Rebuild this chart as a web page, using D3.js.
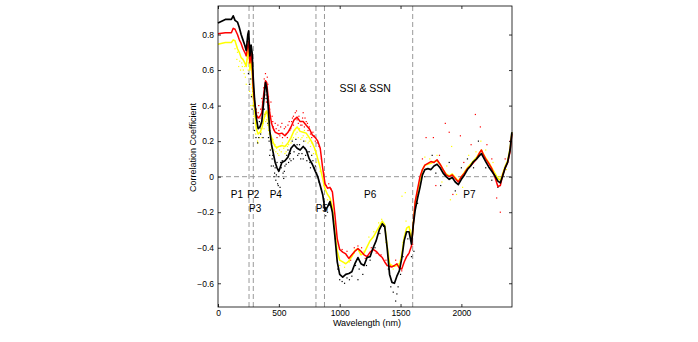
<!DOCTYPE html>
<html>
<head>
<meta charset="utf-8">
<script src="https://cdn.jsdelivr.net/npm/d3@7"></script>
<style>
  body { margin: 0; background: #fff; }
  text { font-family: "Liberation Sans", Arial, Helvetica, sans-serif; fill: #000; }
  .tick text { font-size: 8.5px; }
  .axisText { font-size: 9px; }
  .note { font-size: 10.5px; }
</style>
</head>
<body>
<div class="chart"></div>
<script>
// wavelength grid (nm) and the three smoothed correlation curves
var wavelengths = [0, 60, 110, 125, 140, 160, 175, 190, 205, 220, 232, 245, 252, 262, 272, 280, 290, 300, 315, 330,
  345, 360, 375, 390, 400, 412, 425, 440, 455, 470, 485, 500, 525, 550, 575, 600, 625, 650, 675, 700,
  725, 750, 775, 800, 820, 840, 860, 880, 900, 920, 940, 960, 980, 1000, 1025, 1050, 1075, 1100, 1125, 1150,
  1175, 1200, 1225, 1250, 1275, 1300, 1325, 1350, 1370, 1390, 1410, 1430, 1450, 1470, 1490, 1510, 1530, 1550, 1570, 1590,
  1605, 1620, 1640, 1660, 1680, 1700, 1725, 1750, 1775, 1800, 1825, 1850, 1875, 1900, 1925, 1950, 1975, 2000, 2025, 2050,
  2075, 2100, 2125, 2150, 2165, 2180, 2200, 2225, 2250, 2275, 2300, 2320, 2340, 2360, 2380, 2400, 2415];

var blackCorr = [0.865, 0.885, 0.885, 0.905, 0.88, 0.87, 0.84, 0.80, 0.77, 0.74, 0.71, 0.80, 0.82, 0.68, 0.74, 0.70, 0.55, 0.44, 0.33, 0.27,
  0.28, 0.31, 0.42, 0.53, 0.50, 0.40, 0.26, 0.18, 0.13, 0.08, 0.05, 0.03, 0.08, 0.09, 0.11, 0.16, 0.18, 0.16, 0.15, 0.17,
  0.15, 0.10, 0.07, 0.03, 0.00, -0.05, -0.10, -0.19, -0.17, -0.14, -0.20, -0.33, -0.48, -0.55, -0.565, -0.55, -0.545, -0.535, -0.49, -0.455,
  -0.49, -0.50, -0.455, -0.45, -0.40, -0.36, -0.30, -0.265, -0.28, -0.40, -0.55, -0.595, -0.60, -0.56, -0.53, -0.46, -0.36, -0.31, -0.31, -0.38,
  -0.27, -0.19, -0.12, -0.06, 0.01, 0.04, 0.045, 0.04, 0.06, 0.07, 0.05, 0.02, 0.0, -0.015, -0.005, -0.03, -0.045, -0.015, 0.01, 0.04,
  0.06, 0.085, 0.10, 0.12, 0.13, 0.11, 0.085, 0.055, 0.03, 0.005, -0.025, -0.035, 0.005, 0.05, 0.08, 0.15, 0.25];

var redCorr = [0.805, 0.81, 0.81, 0.835, 0.83, 0.80, 0.77, 0.75, 0.72, 0.70, 0.68, 0.74, 0.76, 0.64, 0.70, 0.64, 0.50, 0.42, 0.35, 0.33,
  0.34, 0.36, 0.46, 0.54, 0.53, 0.45, 0.36, 0.30, 0.27, 0.25, 0.245, 0.24, 0.245, 0.23, 0.25, 0.28, 0.32, 0.335, 0.31, 0.31,
  0.29, 0.27, 0.235, 0.22, 0.20, 0.16, 0.05, -0.04, -0.065, -0.06, -0.085, -0.21, -0.35, -0.41, -0.425, -0.435, -0.46, -0.44, -0.42, -0.405,
  -0.42, -0.44, -0.45, -0.425, -0.41, -0.42, -0.44, -0.455, -0.48, -0.50, -0.505, -0.508, -0.50, -0.49, -0.515, -0.52, -0.48, -0.45, -0.43, -0.39,
  -0.27, -0.14, -0.07, 0.0, 0.04, 0.065, 0.075, 0.085, 0.08, 0.095, 0.07, 0.04, 0.01, 0.0, 0.01, -0.01, -0.03, 0.0, 0.02, 0.045,
  0.06, 0.08, 0.10, 0.135, 0.15, 0.125, 0.10, 0.075, 0.045, 0.0, -0.055, -0.05, 0.01, 0.05, 0.08, 0.14, 0.24];

var yellowCorr = [0.745, 0.755, 0.755, 0.77, 0.765, 0.72, 0.70, 0.67, 0.66, 0.64, 0.62, 0.70, 0.72, 0.60, 0.66, 0.58, 0.44, 0.38, 0.27, 0.24,
  0.25, 0.27, 0.32, 0.36, 0.37, 0.33, 0.25, 0.22, 0.19, 0.17, 0.165, 0.17, 0.175, 0.17, 0.19, 0.22, 0.26, 0.28, 0.255, 0.25,
  0.245, 0.22, 0.19, 0.15, 0.10, 0.05, -0.01, -0.07, -0.10, -0.12, -0.17, -0.31, -0.42, -0.47, -0.48, -0.49, -0.475, -0.45, -0.415, -0.405,
  -0.44, -0.43, -0.395, -0.36, -0.34, -0.31, -0.28, -0.25, -0.27, -0.39, -0.49, -0.50, -0.505, -0.50, -0.50, -0.44, -0.34, -0.29, -0.28, -0.36,
  -0.26, -0.15, -0.08, -0.02, 0.04, 0.065, 0.07, 0.075, 0.085, 0.09, 0.07, 0.04, 0.015, 0.005, 0.015, -0.005, -0.025, 0.0, 0.025, 0.05,
  0.07, 0.09, 0.11, 0.135, 0.15, 0.13, 0.105, 0.08, 0.05, 0.02, -0.01, -0.02, 0.02, 0.06, 0.09, 0.16, 0.25];

// scattered individual values [wavelength, correlation]
var blackDots = [[262, 0.62], [270, 0.55], [285, 0.48], [295, 0.40], [305, 0.36], [320, 0.28], [335, 0.22], [350, 0.24], [365, 0.30], [380, 0.38],
  [395, 0.44], [410, 0.30], [420, 0.20], [430, 0.15], [445, 0.10], [455, 0.06], [465, 0.02], [475, -0.02], [490, -0.04], [500, 0.00],
  [510, -0.06], [520, 0.05], [535, 0.02], [550, 0.06], [565, 0.12], [580, 0.08], [595, 0.13], [610, 0.20], [625, 0.14], [640, 0.21],
  [655, 0.12], [670, 0.18], [690, 0.13], [705, 0.20], [720, 0.12], [740, 0.14], [755, 0.08], [770, 0.12], [790, 0.05], [810, 0.02],
  [830, -0.03], [850, -0.07], [870, -0.14], [885, -0.22], [900, -0.20], [915, -0.16], [930, -0.17], [950, -0.25], [985, -0.52], [1000, -0.58],
  [1020, -0.59], [1040, -0.60], [1060, -0.57], [1080, -0.58], [1100, -0.56], [1130, -0.50], [1160, -0.52], [1190, -0.55], [1220, -0.50], [1250, -0.47],
  [1290, -0.40], [1330, -0.32], [1360, -0.28], [1400, -0.52], [1420, -0.62], [1440, -0.65], [1460, -0.70], [1480, -0.62], [1500, -0.55], [1520, -0.45],
  [1560, -0.35], [1590, -0.45], [1610, -0.42], [1640, -0.15], [1700, 0.0], [1760, 0.12], [1790, 0.02], [1830, -0.05], [1900, 0.08], [1950, -0.08],
  [2000, 0.05], [2050, 0.10], [2100, 0.05], [2140, 0.20], [2200, 0.05], [2250, -0.02], [2300, -0.06], [2350, 0.0], [480, 0.01], [540, -0.01],
  [600, 0.09], [680, 0.10], [760, 0.05], [1150, -0.58], [1470, -0.66],
  [250, 0.58], [258, 0.52], [275, 0.45], [280, 0.38], [290, 0.30], [300, 0.26], [312, 0.22], [325, 0.19], [340, 0.31], [355, 0.27],
  [370, 0.22], [385, 0.35], [400, 0.36], [415, 0.22], [425, 0.12], [438, 0.06], [450, 0.12], [460, 0.0], [470, 0.05], [485, 0.08],
  [495, -0.05], [505, 0.04], [515, 0.08], [528, 0.09], [545, 0.03], [560, 0.07], [575, 0.15], [590, 0.10], [620, 0.10], [650, 0.18],
  [665, 0.13], [700, 0.10], [715, 0.16], [730, 0.09], [750, 0.14], [780, 0.09], [800, 0.06]];

var redDots = [[240, 0.76], [255, 0.72], [270, 0.66], [290, 0.52], [300, 0.44], [315, 0.38], [330, 0.36], [350, 0.38], [365, 0.42], [375, 0.50],
  [380, 0.55], [390, 0.58], [400, 0.48], [410, 0.52], [420, 0.40], [430, 0.33], [440, 0.30], [455, 0.28], [470, 0.30], [485, 0.22],
  [500, 0.26], [515, 0.28], [530, 0.22], [545, 0.27], [560, 0.24], [575, 0.29], [590, 0.26], [605, 0.31], [620, 0.29], [635, 0.36],
  [650, 0.32], [665, 0.34], [680, 0.29], [695, 0.33], [710, 0.28], [725, 0.31], [740, 0.26], [760, 0.24], [780, 0.25], [800, 0.20],
  [830, 0.17], [850, 0.10], [870, 0.02], [890, -0.05], [910, -0.04], [930, -0.07], [990, -0.38], [1020, -0.41], [1060, -0.42], [1090, -0.47],
  [1120, -0.40], [1150, -0.39], [1180, -0.40], [1210, -0.46], [1260, -0.40], [1300, -0.43], [1340, -0.44], [1380, -0.47], [1420, -0.50], [1460, -0.47],
  [1510, -0.53], [1560, -0.44], [1600, -0.38], [1640, -0.10], [1680, 0.10], [1710, 0.22], [1770, 0.22], [1790, -0.05], [1820, 0.12], [1868, 0.30],
  [1900, 0.25], [1930, -0.10], [1992, 0.23], [2020, 0.08], [2080, 0.18], [2115, 0.35], [2156, 0.28], [2210, 0.18], [2250, 0.10], [2290, -0.12],
  [2320, -0.20], [2360, 0.10], [2400, 0.20], [395, 0.46], [445, 0.34], [620, 0.34], [700, 0.36],
  [335, 0.40], [345, 0.33], [360, 0.44], [372, 0.38], [385, 0.50], [398, 0.42], [405, 0.56], [415, 0.45], [425, 0.38], [435, 0.42],
  [450, 0.31], [462, 0.26], [478, 0.27], [492, 0.29], [508, 0.23], [525, 0.30], [555, 0.28], [570, 0.22], [585, 0.31], [598, 0.27],
  [612, 0.33], [645, 0.37], [660, 0.30], [690, 0.29], [715, 0.33], [735, 0.30], [750, 0.28], [770, 0.22], [790, 0.23], [815, 0.19]];

var yellowDots = [[140, 0.72], [155, 0.66], [170, 0.62], [185, 0.60], [200, 0.62], [215, 0.58], [225, 0.56], [240, 0.66], [255, 0.64], [265, 0.52],
  [275, 0.46], [285, 0.40], [295, 0.34], [310, 0.24], [325, 0.20], [340, 0.22], [355, 0.25], [370, 0.30], [385, 0.34], [400, 0.32],
  [415, 0.26], [430, 0.21], [445, 0.19], [460, 0.15], [475, 0.14], [490, 0.13], [505, 0.15], [520, 0.14], [540, 0.16], [560, 0.14],
  [580, 0.18], [600, 0.19], [620, 0.22], [640, 0.24], [660, 0.22], [680, 0.21], [700, 0.23], [720, 0.20], [740, 0.19], [760, 0.17],
  [785, 0.13], [810, 0.08], [840, 0.03], [870, -0.05], [900, -0.13], [960, -0.35], [1000, -0.50], [1040, -0.51], [1080, -0.48], [1120, -0.43],
  [1160, -0.42], [1200, -0.42], [1240, -0.34], [1280, -0.31], [1320, -0.26], [1345, -0.24], [1380, -0.37], [1440, -0.52], [1480, -0.49], [1512, -0.11],
  [1539, -0.09], [1520, -0.37], [1545, -0.25], [1580, -0.30], [1610, -0.22], [1650, -0.05], [1700, 0.11], [1740, 0.10], [1800, 0.12], [1840, -0.03],
  [1880, 0.06], [1910, -0.13], [1920, 0.17], [1960, -0.10], [2010, -0.06], [2060, 0.12], [2120, 0.14], [2160, 0.20], [2200, 0.15], [2260, 0.08],
  [2310, 0.0], [2370, 0.04],
  [160, 0.70], [178, 0.65], [195, 0.64], [208, 0.60], [220, 0.62], [232, 0.52], [248, 0.60], [260, 0.48], [270, 0.40], [280, 0.50],
  [290, 0.45], [305, 0.30], [318, 0.28], [330, 0.19], [345, 0.28], [360, 0.22], [378, 0.27], [392, 0.31], [408, 0.29], [420, 0.24],
  [440, 0.16], [452, 0.21], [468, 0.18], [482, 0.16], [500, 0.12], [515, 0.17], [530, 0.19], [550, 0.13], [570, 0.17], [610, 0.21],
  [630, 0.26], [650, 0.25], [670, 0.27], [690, 0.22], [710, 0.26], [730, 0.22], [750, 0.20], [770, 0.19], [795, 0.15]];

var boundaries = [255, 290, 805, 875, 1600];
var xTicks = [0, 500, 1000, 1500, 2000];
var yTicks = [-0.6, -0.4, -0.2, 0, 0.2, 0.4, 0.6, 0.8];

var regionNames = ["P1", "P2", "P3", "P4", "P5", "P6", "P7"];
var regionX = [156, 290, 305, 475, 853, 1251, 2066];
var regionY = [-0.118, -0.118, -0.197, -0.118, -0.197, -0.118, -0.118];

var svgWidth = 698;
var svgHeight = 342;
var margin = { top: 6, right: 186, bottom: 35, left: 218 };
var width = svgWidth - margin.left - margin.right;
var height = svgHeight - margin.top - margin.bottom;

var svg = d3.select(".chart")
  .append("svg")
  .attr("width", svgWidth)
  .attr("height", svgHeight)
  .append("g")
  .attr("transform", "translate(" + margin.left + "," + margin.top + ")");

var x = d3.scaleLinear().domain([0, 2416]).range([0, width]);
var y = d3.scaleLinear().domain([-0.7335, 0.9606]).range([height, 0]);

var fmtY = function(d) { return d === 0 ? "0" : d3.format(".1f")(d); };

// dashed reference lines
svg.selectAll(".bound")
  .data(boundaries)
  .enter().append("line")
  .attr("x1", function(d) { return x(d); })
  .attr("x2", function(d) { return x(d); })
  .attr("y1", 0)
  .attr("y2", height)
  .attr("stroke", "#999")
  .attr("stroke-width", 1)
  .attr("stroke-dasharray", "5,3");

svg.append("line")
  .attr("x1", 0).attr("x2", width)
  .attr("y1", y(0)).attr("y2", y(0))
  .attr("stroke", "#999")
  .attr("stroke-width", 1)
  .attr("stroke-dasharray", "5,3");

// region labels
svg.selectAll(".region")
  .data(regionNames)
  .enter().append("text")
  .attr("class", "note")
  .attr("x", function(d, i) { return x(regionX[i]); })
  .attr("y", function(d, i) { return y(regionY[i]); })
  .attr("text-anchor", "middle")
  .style("font-size", "10px")
  .text(function(d) { return d; });

svg.append("text")
  .attr("class", "note")
  .attr("x", x(1210))
  .attr("y", y(0.476))
  .attr("text-anchor", "middle")
  .text("SSI & SSN");

// scatter of single values
function drawDots(data, color) {
  svg.append("g").selectAll("rect")
    .data(data)
    .enter().append("rect")
    .attr("x", function(d) { return x(d[0]) - 0.6; })
    .attr("y", function(d) { return y(d[1]) - 0.6; })
    .attr("width", 1.2)
    .attr("height", 1.2)
    .attr("fill", color);
}
drawDots(yellowDots, "#ffff00");
drawDots(redDots, "#ff0000");
drawDots(blackDots, "#000");

function drawLine(values, color, w) {
  var line = d3.line()
    .x(function(d, i) { return x(wavelengths[i]); })
    .y(function(d) { return y(d); });
  svg.append("path")
    .datum(values)
    .attr("d", line)
    .attr("fill", "none")
    .attr("stroke", color)
    .attr("stroke-width", w)
    .attr("stroke-linejoin", "round");
}
drawLine(yellowCorr, "#ffff00", 1.5);
drawLine(redCorr, "#ff0000", 1.5);
drawLine(blackCorr, "#000", 1.7);

// axes with inward ticks on all four sides
var bottomAxis = d3.axisBottom(x).tickValues(xTicks).tickSizeInner(-3).tickSizeOuter(0).tickPadding(3).tickFormat(d3.format("d"));
var topAxis = d3.axisTop(x).tickValues(xTicks).tickSizeInner(-3).tickSizeOuter(0).tickFormat("");
var leftAxis = d3.axisLeft(y).tickValues(yTicks).tickSizeInner(-3).tickSizeOuter(0).tickPadding(4).tickFormat(fmtY);
var rightAxis = d3.axisRight(y).tickValues(yTicks).tickSizeInner(-3).tickSizeOuter(0).tickFormat("");

svg.append("g").attr("transform", "translate(0," + height + ")").call(bottomAxis);
svg.append("g").call(topAxis);
svg.append("g").call(leftAxis);
svg.append("g").attr("transform", "translate(" + width + ",0)").call(rightAxis);

svg.selectAll(".domain").remove();
svg.selectAll(".tick line").attr("stroke", "#000").attr("stroke-width", 0.8);

svg.append("rect")
  .attr("width", width)
  .attr("height", height)
  .attr("fill", "none")
  .attr("stroke", "#000")
  .attr("stroke-width", 0.8);

svg.append("text")
  .attr("transform", "rotate(-90)")
  .attr("x", 0 - height / 2 + 9)
  .attr("y", -22.5)
  .attr("class", "axisText")
  .attr("text-anchor", "middle")
  .text("Correlation Coefficient");

svg.append("text")
  .attr("x", width / 2 + 2)
  .attr("y", height + 19)
  .attr("class", "axisText")
  .attr("text-anchor", "middle")
  .text("Wavelength (nm)");
</script>
</body>
</html>
